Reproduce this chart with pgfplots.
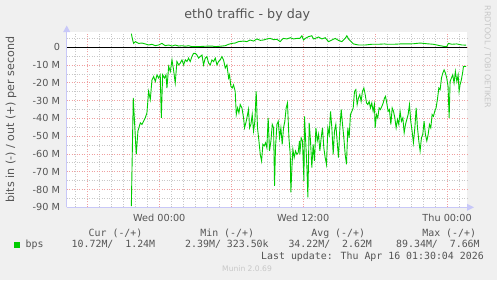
\documentclass[border=0pt]{standalone}
\usepackage{fontspec}
\setmainfont{DejaVu Sans}
\newfontfamily\mono{DejaVu Sans Mono}
\usepackage{pgfplots}
\pgfplotsset{compat=1.18}
\definecolor{bgc}{HTML}{F0F0F0}
\definecolor{txt}{HTML}{555555}
\definecolor{mgrid}{HTML}{F0A0A0}
\definecolor{ngrid}{HTML}{C8C8C8}
\definecolor{axc}{HTML}{C8C8F8}
\definecolor{grn}{HTML}{00CC00}
\definecolor{wm}{HTML}{C8C8C8}
\begin{document}
\begin{tikzpicture}[x=1bp,y=1bp]
\fill[bgc] (0,0) rectangle (497,280);
\begin{axis}[
  at={(66.7bp,72.7bp)}, anchor=south west,
  scale only axis, width=400.3bp, height=175bp,
  xmin=-7.72, xmax=25.66, ymin=-90, ymax=8.44,
  axis background/.style={fill=white},
  axis line style={draw=none},
  major tick length=0pt, minor tick length=0pt,
  xtick={-6,0,6,12,18,24},
  xticklabels={,Wed 00:00,,Wed 12:00,,Thu 00:00},
  minor xtick={-7,...,25},
  ytick={-90,-80,...,0},
  yticklabels={-90 M,-80 M,-70 M,-60 M,-50 M,-40 M,-30 M,-20 M,-10 M,0},
  minor ytick={-85,-75,...,5},
  grid=both,
  major grid style={mgrid, line width=0.8bp, dash pattern=on 1bp off 1.5bp},
  minor grid style={ngrid, line width=0.8bp, dash pattern=on 1bp off 1.5bp},
  ticklabel style={font=\fontsize{9.7bp}{11bp}\selectfont, text=txt},
  xticklabel style={anchor=base, yshift=-14bp},
  yticklabel style={anchor=east, inner sep=0pt, xshift=-6.5bp},
]
\draw[black, line width=1bp] (axis cs:-7.72,0) -- (axis cs:25.66,0);
% in (negative)
\addplot[grn, line width=0.9bp] coordinates {
(-2.33,-89.34) (-2.17,-28.5) (-1.92,-60.2) (-1.78,-47.1) (-1.58,-42.5) (-1.44,-43.4) (-1.31,-41.6) (-1.17,-39.7) (-1.03,-36.9) (-0.89,-24.8) (-0.75,-29.4) (-0.61,-18.3) (-0.47,-16.4) (-0.33,-19.2) (-0.19,-15.5) (-0.06,-17.3) (0.08,-15.5) (0.17,-39.7) (0.28,-15.5) (0.44,-17.3) (0.56,-15.5) (0.64,-22.9) (0.78,-10.8) (0.92,-13.6) (1.06,-7.1) (1.19,-12.7) (1.33,-20.1) (1.47,-8.0) (1.61,-9.9) (1.75,-8.9) (1.89,-7.1) (2.03,-9.9) (2.17,-7.1) (2.31,-8.0) (2.44,-6.1) (2.58,-8.0) (2.72,-5.2) (2.86,-3.4) (3.00,-3.4) (3.14,-4.3) (3.28,-6.1) (3.42,-5.2) (3.56,-4.3) (3.69,-9.9) (3.83,-6.1) (3.97,-5.2) (4.11,-8.9) (4.25,-9.9) (4.39,-7.1) (4.53,-8.0) (4.67,-6.1) (4.81,-9.9) (4.94,-8.0) (5.08,-7.1) (5.22,-5.2) (5.36,-7.1) (5.50,-11.7) (5.64,-9.9) (5.78,-17.3) (5.86,-15.5) (5.97,-22.0) (6.08,-22.9) (6.19,-21.1) (6.33,-24.8) (6.42,-37.8) (6.53,-34.1) (6.64,-36.9) (6.75,-32.2) (6.89,-34.1) (7.03,-39.7) (7.11,-45.3) (7.25,-41.6) (7.36,-37.8) (7.44,-35.0) (7.53,-45.3) (7.64,-43.4) (7.75,-37.8) (7.86,-47.1) (7.97,-41.6) (8.08,-24.8) (8.19,-45.3) (8.31,-52.7) (8.42,-60.2) (8.53,-63.9) (8.64,-54.6) (8.75,-55.5) (8.86,-53.7) (8.97,-56.5) (9.08,-39.7) (9.19,-58.3) (9.31,-52.7) (9.42,-43.4) (9.53,-45.3) (9.61,-77.9) (9.69,-56.5) (9.81,-43.4) (9.92,-41.6) (10.03,-50.9) (10.14,-45.3) (10.25,-54.6) (10.36,-45.3) (10.47,-41.6) (10.58,-34.1) (10.69,-31.3) (10.81,-50.9) (10.92,-60.2) (10.97,-81.6) (11.06,-67.6) (11.14,-57.4) (11.25,-62.0) (11.36,-58.3) (11.47,-60.2) (11.58,-59.3) (11.69,-52.7)
(11.72,-60.2) (11.83,-50.9) (11.94,-52.7) (12.06,-75.1) (12.11,-38.8) (12.22,-54.6) (12.31,-67.6) (12.39,-84.4) (12.50,-42.5) (12.61,-52.7) (12.72,-67.6) (12.83,-54.6) (12.94,-63.9) (13.06,-45.3) (13.17,-52.7) (13.28,-49.0) (13.39,-58.3) (13.50,-50.9) (13.61,-45.3) (13.72,-56.5) (13.83,-62.0) (13.94,-65.8) (14.06,-45.3) (14.17,-49.0) (14.28,-36.0) (14.39,-45.3) (14.50,-60.2) (14.61,-47.1) (14.72,-43.4) (14.83,-52.7) (14.94,-62.0) (15.06,-45.3) (15.17,-35.0) (15.28,-43.4) (15.39,-50.9) (15.50,-60.2) (15.61,-65.8) (15.72,-45.3) (15.83,-50.9) (15.94,-37.8) (16.06,-36.0) (16.17,-34.1) (16.28,-24.8) (16.39,-23.8) (16.50,-32.2) (16.61,-28.5) (16.72,-26.6) (16.83,-30.4) (16.94,-24.8) (17.06,-22.9) (17.17,-26.6) (17.28,-31.3) (17.39,-32.2) (17.50,-30.4) (17.61,-34.1) (17.72,-31.3) (17.83,-36.0) (17.94,-32.2) (18.00,-45.3) (18.11,-37.8) (18.22,-39.7) (18.33,-34.1) (18.44,-35.0) (18.56,-33.2) (18.67,-31.3) (18.78,-28.5)
(18.86,-27.6) (18.97,-31.3) (19.08,-36.0) (19.19,-35.0) (19.31,-43.4) (19.42,-34.1) (19.53,-36.0) (19.64,-39.7) (19.75,-45.3) (19.86,-40.6) (19.97,-43.4) (20.08,-36.0) (20.19,-41.6) (20.31,-39.7) (20.42,-48.1) (20.53,-43.4) (20.64,-40.6) (20.75,-37.8) (20.86,-32.2) (20.97,-41.6) (21.08,-47.1) (21.19,-53.7) (21.31,-45.3) (21.42,-34.1) (21.53,-45.3) (21.64,-52.7) (21.75,-58.3) (21.86,-50.9) (21.97,-49.0) (22.08,-41.6) (22.19,-49.0) (22.31,-52.7) (22.42,-49.0) (22.53,-43.4) (22.64,-45.3) (22.75,-37.8) (22.86,-38.8) (22.97,-36.0) (23.08,-34.1) (23.19,-29.4) (23.31,-22.9) (23.42,-23.8) (23.53,-17.3) (23.64,-14.5) (23.75,-12.7) (23.86,-14.5) (23.97,-17.3) (24.08,-22.0) (24.17,-39.7) (24.25,-19.2) (24.36,-17.3) (24.47,-15.5) (24.58,-20.1) (24.69,-13.6) (24.81,-19.2) (24.92,-15.5) (25.00,-24.8) (25.08,-21.1) (25.19,-18.3) (25.31,-13.6) (25.36,-10.8) (25.47,-10.8) (25.58,-10.72)
};
% out (positive)
\addplot[grn, line width=0.9bp] coordinates {
(-2.33,7.66) (-2.22,4.1) (-2.14,2.2) (-2.00,3.2) (-1.72,2.2) (-1.44,2.4) (-1.17,1.9) (-0.89,1.3) (-0.61,1.7) (-0.33,0.9) (-0.06,1.3) (0.22,2.2) (0.50,0.9) (0.78,1.3) (1.06,0.7) (1.33,1.3) (1.61,0.7) (1.89,0.9) (2.17,0.6) (2.44,0.9) (2.72,0.4) (3.28,0.4) (3.83,0.6) (4.39,0.7) (4.67,0.4) (5.08,0.6) (5.50,0.9) (5.78,1.7) (6.06,2.2) (6.33,2.4) (6.61,3.2) (7.03,3.5) (7.31,3.2) (7.58,4.1) (7.86,3.5) (8.14,4.7) (8.42,3.9) (8.69,4.1) (8.97,4.7) (9.25,5.0) (9.53,4.3) (9.81,4.5) (10.08,3.2) (10.22,4.3) (10.36,5.0) (10.64,4.7) (10.92,5.4) (11.19,4.7) (11.47,5.0) (11.72,5.0) (11.89,6.5) (12.03,4.1) (12.17,5.0) (12.44,6.0) (12.72,6.5) (12.86,4.7) (13.00,5.0) (13.28,5.8) (13.56,4.7) (13.83,5.4) (14.11,3.2) (14.39,4.1) (14.67,5.0) (14.94,3.9) (15.22,3.2) (15.50,5.0) (15.64,6.5) (15.78,4.7) (16.00,3.2) (16.19,1.9) (16.61,1.3) (17.17,1.3) (17.72,1.7) (18.28,1.7) (18.78,1.9) (18.97,1.7) (19.53,1.7) (20.08,1.9) (20.64,1.9) (21.19,2.0) (21.75,2.4) (22.31,2.0) (22.86,1.7) (23.42,0.9) (23.83,0.4) (23.97,0.4) (24.11,2.2) (24.39,1.7) (24.81,1.9) (25.22,1.3) (25.58,1.24)
};
\end{axis}
% axis lines with arrows
\draw[axc, line width=1.2bp] (66.7,72.7) -- (66.7,249);
\fill[axc] (63.2,248) -- (70.2,248) -- (66.7,254.5) -- cycle;
\draw[axc, line width=1.2bp] (66.7,72.7) -- (468,72.7);
\fill[axc] (467,69.2) -- (467,76.2) -- (474,72.7) -- cycle;
% title
\node[anchor=base, text=txt, font=\fontsize{12.7bp}{14bp}\selectfont, inner sep=0pt] at (247.3,261.5) {eth0 traffic - by day};
% y label
\node[rotate=90, text=txt, font=\fontsize{11.1bp}{13bp}\selectfont, inner sep=0pt] at (11,160.5) {bits in (-) / out (+) per second};
% watermark
\node[rotate=-90, text=wm, font=\fontsize{8bp}{9bp}\selectfont, inner sep=0pt] at (487.5,223) {RRDTOOL / TOBI OETIKER};
% legend
\begin{scope}[every node/.style={anchor=base west, inner sep=0pt, text=txt, font=\mono\fontsize{9.9bp}{11bp}\selectfont}]
\node at (88.5,44) {Cur (-/+)};
\node at (200.2,44) {Min (-/+)};
\node at (311.2,44) {Avg (-/+)};
\node at (422.2,44) {Max (-/+)};
\fill[grn] (14,31.7) rectangle (20,37.7);
\node at (25.5,32.5) {bps};
\node at (71.5,32.5) {10.72M/~~1.24M};
\node at (185,32.5) {2.39M/~323.50k};
\node at (288.3,32.5) {34.22M/~~2.62M};
\node at (396,32.5) {89.34M/~~7.66M};
\node at (261,20.5) {Last update: Thu Apr 16 01:30:04 2026};
\end{scope}
\node[anchor=base west, inner sep=0pt, text=wm, font=\fontsize{7.6bp}{9bp}\selectfont] at (222,9) {Munin 2.0.69};
\end{tikzpicture}
\end{document}
